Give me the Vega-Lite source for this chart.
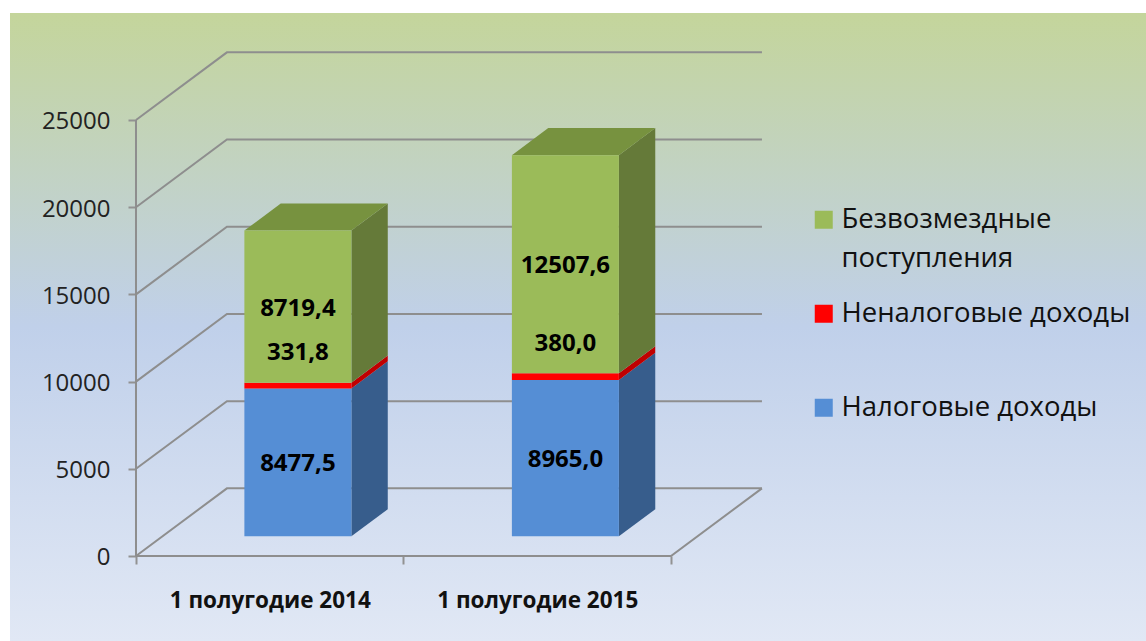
{
"$schema":"https://vega.github.io/schema/vega-lite/v6.json",
"width":1136,"height":628,
"padding":{"left":10,"top":13,"right":0,"bottom":0},
"autosize":{"type":"none"},
"background":"#ffffff",
"config":{"style":{"guide-label":{"lineHeight":39}}},
"view":{"stroke":null,"fill":{"gradient":"linear","x1":0,"y1":0,"x2":0,"y2":1,"stops":[{"offset":0,"color":"#c4d59b"},{"offset":0.5,"color":"#c0d0ea"},{"offset":1,"color":"#e1e8f5"}]}},
"data":{"values":[
{"period":"1 полугодие 2014","series":"Налоговые доходы","rank":1,"value":8477.5},
{"period":"1 полугодие 2014","series":"Неналоговые доходы","rank":2,"value":331.8},
{"period":"1 полугодие 2014","series":"Безвозмездные поступления","rank":3,"value":8719.4},
{"period":"1 полугодие 2015","series":"Налоговые доходы","rank":1,"value":8965.0},
{"period":"1 полугодие 2015","series":"Неналоговые доходы","rank":2,"value":380.0},
{"period":"1 полугодие 2015","series":"Безвозмездные поступления","rank":3,"value":12507.6}
]},
"transform":[
{"stack":"value","groupby":["period"],"sort":[{"field":"rank","order":"ascending"}],"as":["low","high"]},
{"calculate":"datum.period==='1 полугодие 2014'?0:1","as":"slot"},
{"calculate":"datum.slot+0.31+0.0952","as":"left"},
{"calculate":"datum.slot+0.71+0.0952","as":"right"},
{"calculate":"replace(format(datum.value,'.1f'),'.',',')","as":"label"}
],
"encoding":{
"x":{"field":"sx","type":"quantitative","scale":{"domain":[-0.471,3.7757],"nice":false,"zero":false},
 "axis":{"title":null,"orient":"bottom","offset":-85,"values":[0,0.5,1,1.5,2],"grid":false,"domain":false,"tickColor":"#929292","tickWidth":2,"tickSize":8,"tickOpacity":{"expr":"datum.value%1===0?1:0"},
 "labelExpr":"datum.value===0.5?'1 полугодие 2014':datum.value===1.5?'1 полугодие 2015':''","labelFont":"Open Sans","labelFontWeight":"bold","labelFontSize":22.5,"labelColor":"#111111","labelPadding":25,"labelLimit":400,"labelOverlap":false,"labelFlush":false}},
"y":{"field":"sy","type":"quantitative","scale":{"domain":[-4874,31135],"nice":false,"zero":false},
 "axis":{"title":null,"orient":"left","offset":-126,"values":[0,5000,10000,15000,20000,25000],"format":"d","grid":false,"domain":false,"tickColor":"#929292","tickWidth":2,"tickSize":8,"labelFont":"Open Sans","labelFontSize":24,"labelColor":"#222222","labelPadding":18,"labelOffset":2,"labelOverlap":false,"labelFlush":false}}
},
"resolve":{"scale":{"color":"independent"}},
"layer":[
{"data":{"values":[{"level":0},{"level":5000},{"level":10000},{"level":15000},{"level":20000},{"level":25000}]},
 "transform":[{"calculate":"[0,1,2]","as":"vertex"},{"flatten":["vertex"]},
 {"calculate":"datum.vertex===0?0:datum.vertex===1?0.34:2.34","as":"sx"},
 {"calculate":"datum.level+(datum.vertex>0?3880:0)","as":"sy"}],
 "mark":{"type":"line","stroke":"#8e8e8e","strokeWidth":2},
 "encoding":{"detail":{"field":"level","type":"nominal"}}},
{"data":{"values":[{"slot":0,"depth":0},{"slot":2,"depth":0},{"slot":2,"depth":1}]},
 "transform":[{"calculate":"datum.slot+datum.depth*0.34","as":"sx"},{"calculate":"datum.depth*3880","as":"sy"}],
 "mark":{"type":"line","stroke":"#8e8e8e","strokeWidth":2},
 "encoding":{}},
{"data":{"values":[{"slot":0,"level":0},{"slot":0,"level":25000}]},
 "transform":[{"calculate":"datum.slot","as":"sx"},{"calculate":"datum.level","as":"sy"}],
 "mark":{"type":"line","stroke":"#8e8e8e","strokeWidth":2},
 "encoding":{}},
{"transform":[{"calculate":"[0,1]","as":"d"},{"flatten":["d"]},
 {"calculate":"datum.right+datum.d*0.136","as":"sx"},
 {"calculate":"datum.low+1130+datum.d*1552","as":"sy"},
 {"calculate":"datum.high+1130+datum.d*1552","as":"sy2"}],
 "mark":{"type":"area","orient":"vertical"},
 "encoding":{"y":{"field":"sy","type":"quantitative","stack":null},"y2":{"field":"sy2"},
 "detail":{"field":"period","type":"nominal"},
 "color":{"field":"series","type":"nominal","legend":null,"scale":{"domain":["Безвозмездные поступления","Неналоговые доходы","Налоговые доходы"],"range":["#657a39","#c00000","#375d8c"]}}}},
{"transform":[{"filter":"datum.rank===3"},{"calculate":"[0,1]","as":"d"},{"flatten":["d"]},
 {"calculate":"datum.left+datum.d*0.136","as":"sx"},
 {"calculate":"datum.right+datum.d*0.136","as":"sx2"},
 {"calculate":"datum.high+1130+datum.d*1552","as":"sy"}],
 "mark":{"type":"area","orient":"horizontal","color":"#77923f"},
 "encoding":{"x":{"field":"sx","type":"quantitative","stack":null},"x2":{"field":"sx2"},"detail":{"field":"period","type":"nominal"}}},
{"transform":[{"calculate":"datum.left","as":"sx"},{"calculate":"datum.right","as":"sx2"},
 {"calculate":"datum.low+1130","as":"sy"},{"calculate":"datum.high+1130","as":"sy2"}],
 "mark":{"type":"rect"},
 "encoding":{"x2":{"field":"sx2"},"y2":{"field":"sy2"},
 "color":{"field":"series","type":"nominal","sort":null,
  "scale":{"domain":["Безвозмездные поступления","Неналоговые доходы","Налоговые доходы"],"range":["#9bbb59","#ff0000","#558ed5"]},
  "legend":{"title":null,"orient":"none","legendX":800,"legendY":193,"padding":0,"symbolType":"square","symbolSize":324,"symbolStrokeWidth":0,"symbolOpacity":1,"labelFont":"Open Sans","labelFontSize":27.5,"labelColor":"#111111","labelOffset":4,"labelLimit":400,"gridAlign":"all","rowPadding":26,
  "labelExpr":"datum.label==='Безвозмездные поступления'?['Безвозмездные','поступления']:datum.label"}}}},
{"transform":[{"filter":"datum.rank!==2"},{"calculate":"(datum.left+datum.right)/2","as":"sx"},{"calculate":"(datum.low+datum.high)/2+1130","as":"sy"}],
 "mark":{"type":"text","font":"Open Sans","fontWeight":"bold","fontSize":24,"color":"#000000","baseline":"middle","align":"center","dy":2},
 "encoding":{"text":{"field":"label","type":"nominal"}}},
{"transform":[{"filter":"datum.rank===2"},{"calculate":"(datum.left+datum.right)/2","as":"sx"},{"calculate":"(datum.low+datum.high)/2+1130","as":"sy"}],
 "mark":{"type":"text","font":"Open Sans","fontWeight":"bold","fontSize":24,"color":"#000000","baseline":"middle","align":"center","dy":-33},
 "encoding":{"text":{"field":"label","type":"nominal"}}}
]
}
